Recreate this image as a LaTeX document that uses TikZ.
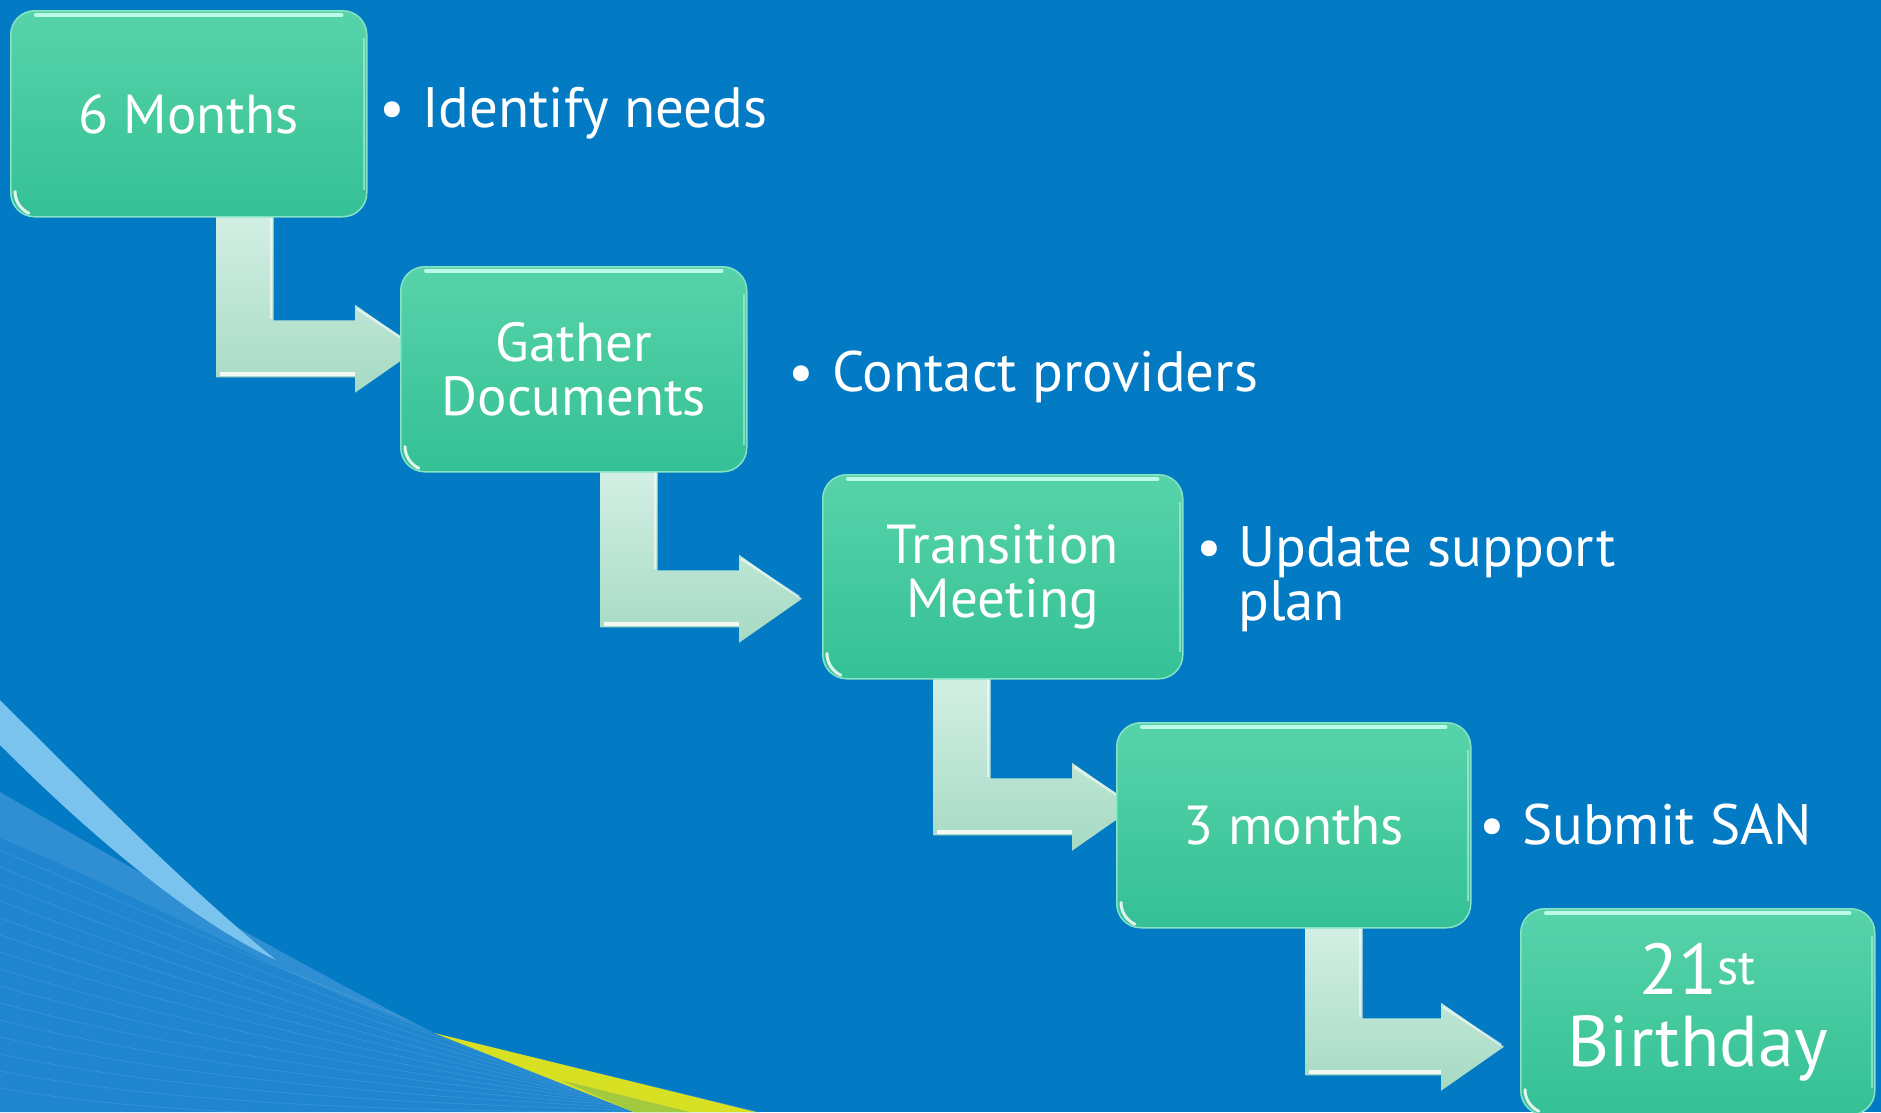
\documentclass[tikz,border=0pt]{standalone}
\usepackage{fontspec}
\setmainfont{PT Sans}
\usetikzlibrary{calc,backgrounds}
\definecolor{bgblue}{HTML}{037AC4}
\definecolor{lightregion}{HTML}{1F86CF}
\definecolor{swooshlight}{HTML}{79C3EE}
\definecolor{swyellow}{HTML}{D8E024}
\definecolor{swgreen}{HTML}{A3C93F}
\definecolor{boxtop}{HTML}{57D3AA}
\definecolor{boxbot}{HTML}{35C095}
\definecolor{boxedge}{HTML}{86E3C5}
\definecolor{glintcol}{HTML}{C6FFEE}
\definecolor{arrowtop}{HTML}{D3EFE4}
\definecolor{arrowbot}{HTML}{A6DAC4}
\newcommand\bentarrow[2]{%
  \path[arrowbody] let \p1=(#1), \p2=(#2) in
    (\x1-28.5pt,\y1) -- (\x1+28.5pt,\y1) -- (\x1+28.5pt,\y2+28.5pt)
    -- (\x2-63pt,\y2+28.5pt) -- (\x2-63pt,\y2+44pt) -- (\x2,\y2)
    -- (\x2-63pt,\y2-44pt) -- (\x2-63pt,\y2-28.5pt) -- (\x1-28.5pt,\y2-28.5pt) -- cycle;
  \draw[arrowhl] let \p1=(#1), \p2=(#2) in
    (\x1-25pt,\y2-25pt) -- (\x2-63pt,\y2-25pt);
  \draw[arrowhl,line width=2.5pt,opacity=.55] let \p1=(#1), \p2=(#2) in
    (\x1+26pt,\y1) -- (\x1+26pt,\y2+30pt);
  \draw[arrowhl,line width=2.5pt,opacity=.55] let \p1=(#1), \p2=(#2) in
    (\x2-61pt,\y2+40pt) -- (\x2-3pt,\y2+2pt);
}
\newcommand\bul[1]{\makebox[#1][l]{\hspace*{-9pt}•}}
\begin{document}
\begin{tikzpicture}[x=1pt,y=-1pt,
  stepbox/.style={draw=boxedge, line width=1.5pt, rounded corners=24pt,
    top color=boxtop, bottom color=boxbot, anchor=north west, inner sep=0pt,
    text=white, align=center, font=\fontsize{55}{54}\selectfont},
  bullettext/.style={anchor=base west, text=white, inner sep=0pt, align=left,
    font=\fontsize{57}{54}\selectfont},
  arrowbody/.style={top color=arrowtop, bottom color=arrowbot},
  arrowhl/.style={white, line width=4pt, opacity=.85},
  glint/.style={glintcol, line width=4pt, line cap=round, opacity=.9},
  cornerglint/.style={white, line width=3pt, line cap=round, opacity=.85}]

\useasboundingbox (0,0) rectangle (1881,1112);

% background
\begin{scope}[on background layer]
  \fill[bgblue] (0,0) rectangle (1881,1112);
  \fill[lightregion] (0,792) .. controls (160,885) and (320,975) .. (434,1033)
    -- (760,1112) -- (0,1112) -- cycle;
  \fill[white, opacity=.08] (0,792) .. controls (160,885) and (320,975) .. (434,1033)
    .. controls (300,985) and (150,900) .. (0,838) -- cycle;
  \begin{scope}
    \clip (0,792) .. controls (160,885) and (320,975) .. (434,1033)
      -- (760,1112) -- (0,1112) -- cycle;
    \foreach \k in {0,...,14} {
      \draw[white, opacity=.10, line width=.8pt]
        (0,850+\k*17) .. controls (160,920+\k*14) and (380,1010+\k*8) .. (640+\k*8,1112);
    }
  \end{scope}
  \fill[swooshlight] (0,700) .. controls (90,790) and (190,890) .. (276,960)
    .. controls (190,920) and (90,835) .. (0,745) -- cycle;
  \fill[swyellow] (434,1033) -- (756,1112) -- (634,1112) -- cycle;
  \fill[swgreen] (560,1080) -- (690,1112) -- (634,1112) -- cycle;
\end{scope}

% boxes
\node[stepbox, minimum width=356pt, minimum height=206pt] (b1) at (10,10) {6 Months};
\node[stepbox, minimum width=346pt, minimum height=205pt] (b2) at (400,266) {Gather\\Documents};
\node[stepbox, minimum width=360pt, minimum height=204pt] (b3) at (822,474) {Transition\\Meeting};
\node[stepbox, minimum width=354pt, minimum height=205pt] (b4) at (1116,722) {3 months};
\node[stepbox, minimum width=354pt, minimum height=206pt,
      font=\fontsize{72}{72}\selectfont] (b5) at (1520,908) {21\textsuperscript{st}\\Birthday};

\foreach \b in {b1,b2,b3,b4,b5} {
  \draw[glint] ([xshift=26pt,yshift=-5pt]\b.north west) -- ([xshift=-26pt,yshift=-5pt]\b.north east);
  \draw[cornerglint] ([xshift=5pt,yshift=26pt]\b.south west)
     arc[start angle=180, end angle=245, radius=24pt];
  \draw[glintcol, line width=2pt, opacity=.5] ([xshift=-4pt,yshift=-28pt]\b.north east)
     -- ([xshift=-4pt,yshift=28pt]\b.south east);
}

% connectors
\coordinate (a1s) at ($(b1.south west)+(235,-4)$);
\coordinate (a1t) at ($(b2.west)+(18,-20.5)$);
\coordinate (a2s) at ($(b2.south west)+(229,-4)$);
\coordinate (a2t) at ($(b3.west)+(-20,22)$);
\coordinate (a3s) at ($(b3.south west)+(140,-4)$);
\coordinate (a3t) at ($(b4.west)+(19,-18.5)$);
\coordinate (a4s) at ($(b4.south west)+(218,-4)$);
\coordinate (a4t) at ($(b5.west)+(-16,35)$);
\begin{scope}[on background layer]
  \bentarrow{a1s}{a1t}
  \bentarrow{a2s}{a2t}
  \bentarrow{a3s}{a3t}
  \bentarrow{a4s}{a4t}
\end{scope}

% bullet texts
\node[bullettext] (t1) at (388,127) {\bul{34pt}Identify needs};
\node[bullettext] (t2) at (797,391) {\bul{35pt}Contact providers};
\node[bullettext] (t3) at (1205,620) {\bul{33pt}Update support\\\hspace*{33pt}plan};
\node[bullettext] (t4) at (1488,844) {\bul{34pt}Submit SAN};
\end{tikzpicture}
\end{document}
